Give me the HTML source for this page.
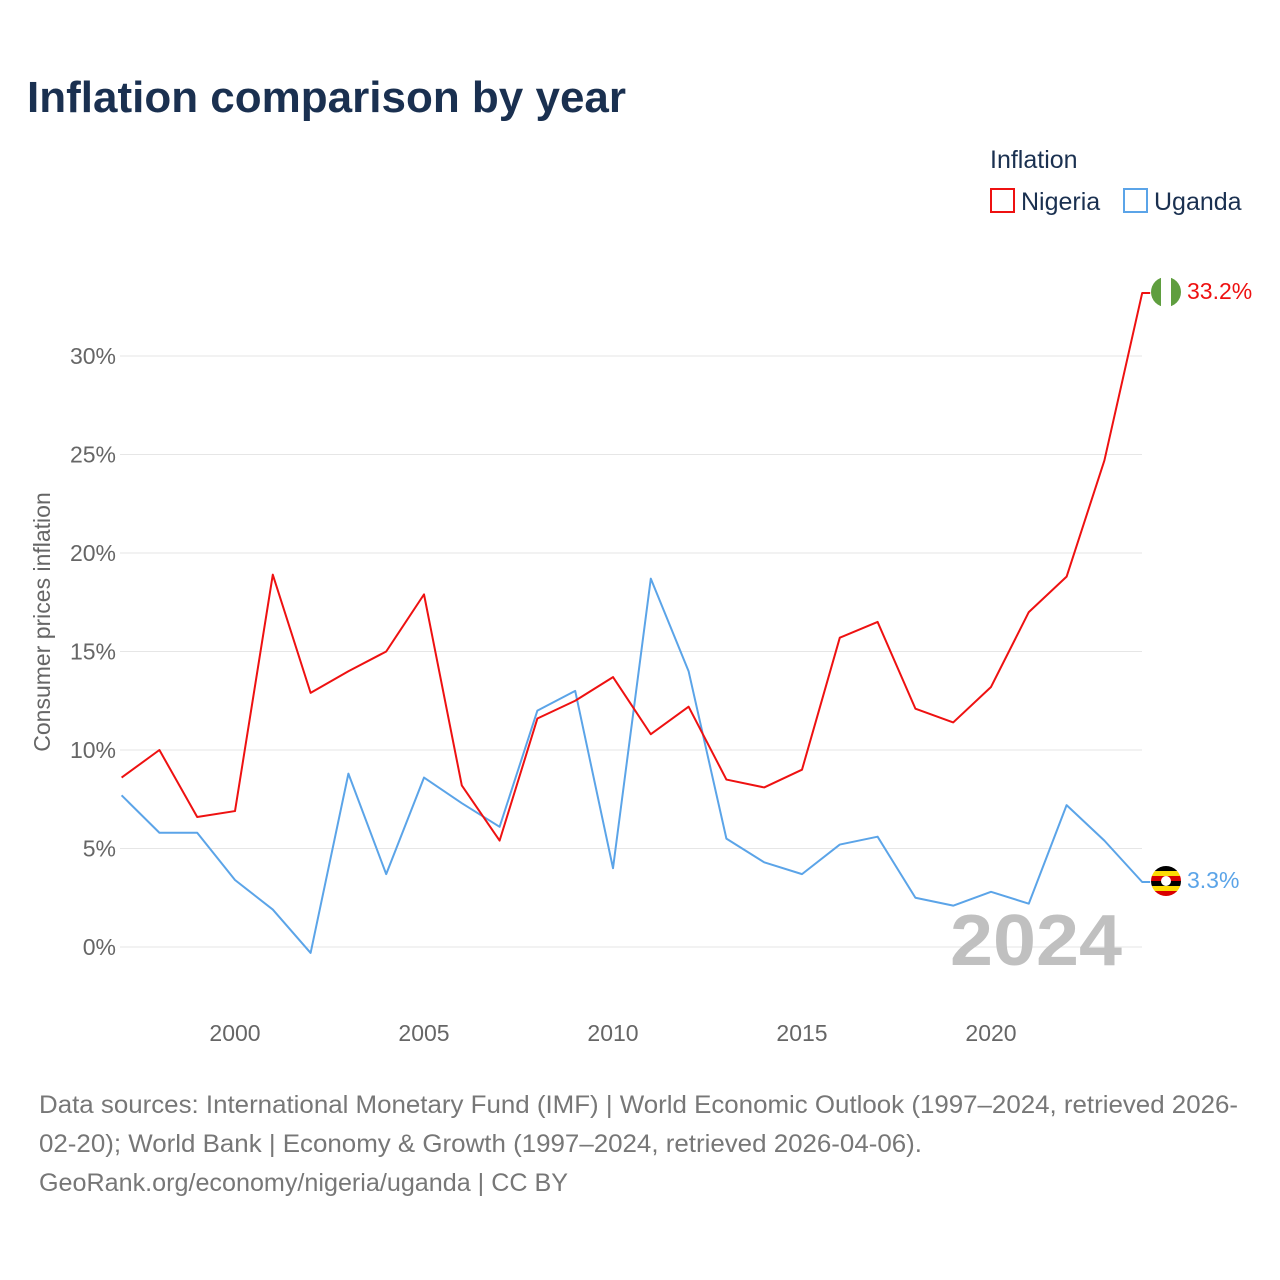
<!DOCTYPE html>
<html><head><meta charset="utf-8"><style>
body{margin:0;background:#fff;font-family:"Liberation Sans",sans-serif;}
#wrap{position:relative;width:1280px;height:1280px;overflow:hidden;}
</style></head><body>
<div id="wrap">
<svg id="chart" width="1280" height="1280" xmlns="http://www.w3.org/2000/svg">
<text x="27" y="112" font-size="44" font-weight="bold" fill="#1a3050">Inflation comparison by year</text>
<text x="990" y="168" font-size="25" fill="#1a3050">Inflation</text>
<g><rect x="991" y="189" width="23" height="23" fill="none" stroke="#ee1111" stroke-width="2"/><text x="1021" y="210" font-size="25" fill="#1a3050">Nigeria</text></g>
<g><rect x="1124" y="189" width="23" height="23" fill="none" stroke="#5ba4e8" stroke-width="2"/><text x="1154" y="210" font-size="25" fill="#1a3050">Uganda</text></g>
<text transform="translate(50,622) rotate(-90)" text-anchor="middle" font-size="23" fill="#666">Consumer prices inflation</text>
<g id="grid"></g><g id="yt"></g><g id="xt"></g>
<text x="1122" y="965" text-anchor="end" font-size="72" font-weight="bold" fill="#c0c0c0" textLength="172" lengthAdjust="spacingAndGlyphs">2024</text>
<g id="lines"></g>
<g><clipPath id="cn"><circle cx="1166" cy="292" r="15"/></clipPath><g clip-path="url(#cn)"><rect x="1151" y="277" width="10" height="30" fill="#5f9e3f"/><rect x="1161" y="277" width="10" height="30" fill="#fff"/><rect x="1171" y="277" width="10" height="30" fill="#5f9e3f"/></g></g>
<g><clipPath id="cu"><circle cx="1166" cy="881" r="15"/></clipPath><g clip-path="url(#cu)"><rect x="1151" y="866" width="30" height="5" fill="#000"/><rect x="1151" y="871" width="30" height="5" fill="#fcdc04"/><rect x="1151" y="876" width="30" height="5" fill="#d90000"/><rect x="1151" y="881" width="30" height="5" fill="#000"/><rect x="1151" y="886" width="30" height="5" fill="#fcdc04"/><rect x="1151" y="891" width="30" height="5" fill="#d90000"/><circle cx="1166" cy="881" r="5" fill="#fff"/></g></g>
<text x="1187" y="299" font-size="23" fill="#ee1111">33.2%</text>
<text x="1187" y="888" font-size="23" fill="#5ba4e8">3.3%</text>
<text font-size="25" fill="#777"><tspan x="39" y="1113" textLength="1199" lengthAdjust="spacingAndGlyphs">Data sources: International Monetary Fund (IMF) | World Economic Outlook (1997–2024, retrieved 2026-</tspan><tspan x="39" y="1152" textLength="883" lengthAdjust="spacingAndGlyphs">02-20); World Bank | Economy &amp; Growth (1997–2024, retrieved 2026-04-06).</tspan><tspan x="39" y="1191" textLength="529" lengthAdjust="spacingAndGlyphs">GeoRank.org/economy/nigeria/uganda | CC BY</tspan></text>
</svg></div>
<script>
const years=[1997,1998,1999,2000,2001,2002,2003,2004,2005,2006,2007,2008,2009,2010,2011,2012,2013,2014,2015,2016,2017,2018,2019,2020,2021,2022,2023,2024];
const nigeria=[8.6,10.0,6.6,6.9,18.9,12.9,14.0,15.0,17.9,8.2,5.4,11.6,12.5,13.7,10.8,12.2,8.5,8.1,9.0,15.7,16.5,12.1,11.4,13.2,17.0,18.8,24.7,33.2];
const uganda=[7.7,5.8,5.8,3.4,1.9,-0.3,8.8,3.7,8.6,7.3,6.1,12.0,13.0,4.0,18.7,14.0,5.5,4.3,3.7,5.2,5.6,2.5,2.1,2.8,2.2,7.2,5.4,3.3];
const yTicks=[0,5,10,15,20,25,30];
const xTicks=[2000,2005,2010,2015,2020];
const NS="http://www.w3.org/2000/svg";
const x=v=>235+(v-2000)*37.8;
const y=v=>947-v*19.7;
function mk(t,a,p){const e=document.createElementNS(NS,t);for(const k in a)e.setAttribute(k,a[k]);p.appendChild(e);return e;}
const g=document.getElementById('grid'),yt=document.getElementById('yt'),xt=document.getElementById('xt'),L=document.getElementById('lines');
yTicks.forEach(v=>{
const l=mk('line',{x1:120,x2:1142,y1:y(v),y2:y(v),stroke:'#e6e6e6','stroke-width':1},g);


const t=mk('text',{x:116,y:y(v)+8,'text-anchor':'end','font-size':23,fill:'#666'},yt);
t.textContent=v+'%';


});
xTicks.forEach(v=>{
const t=mk('text',{x:x(v),y:1041,'text-anchor':'middle','font-size':23,fill:'#666'},xt);
t.textContent=v;


});
function line(d,c,n){
let pts=d.map((v,i)=>x(years[i])+','+y(v));
pts.push((x(years[years.length-1])+8)+','+y(d[d.length-1]));
const p=mk('polyline',{points:pts.join(' '),fill:'none',stroke:c,'stroke-width':2,'stroke-linejoin':'round'},L);


}
line(uganda,'#5ba4e8','uganda-line');
line(nigeria,'#ee1111','nigeria-line');
</script>
</body></html>
